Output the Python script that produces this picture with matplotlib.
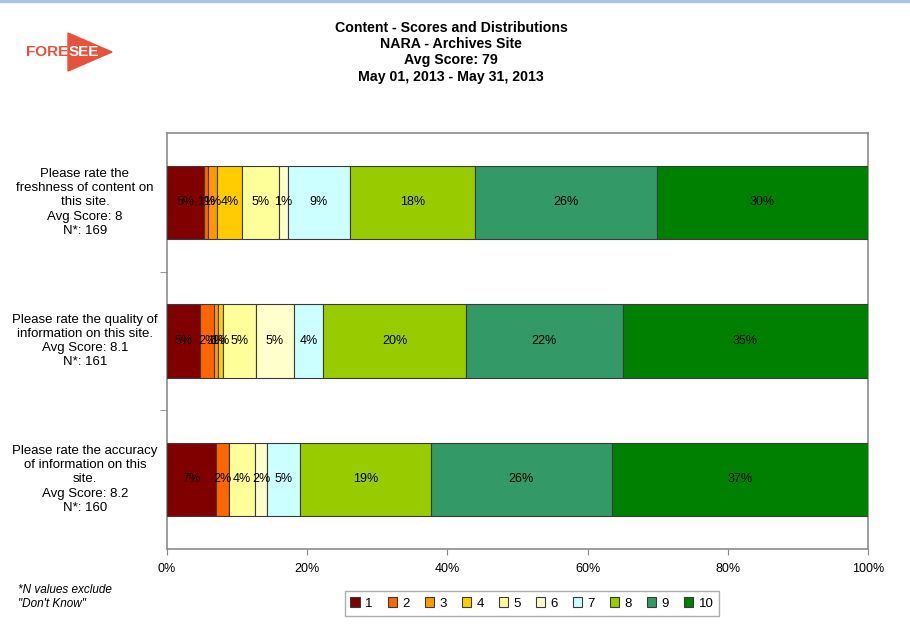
import numpy as np
import matplotlib; matplotlib.use("Agg")
import matplotlib.pyplot as plt
from matplotlib.patches import Polygon, Rectangle
from matplotlib.transforms import blended_transform_factory

plt.rcParams["font.family"] = ["Liberation Sans", "DejaVu Sans"]

# ---- data (percent of respondents per score 1..10) ----
scores = ["1", "2", "3", "4", "5", "6", "7", "8", "9", "10"]
questions = [
    "Please rate the\nfreshness of content on\nthis site.\nAvg Score: 8\nN*: 169",
    "Please rate the quality of\ninformation on this site.\nAvg Score: 8.1\nN*: 161",
    "Please rate the accuracy\nof information on this\nsite.\nAvg Score: 8.2\nN*: 160",
]
freshness = [5.3, 0.6, 1.2, 3.6, 5.3, 1.2, 8.9, 17.8, 26.0, 30.1]
quality   = [4.7, 2.0, 0.6, 0.7, 4.7, 5.4, 4.2, 20.3, 22.4, 35.0]
accuracy  = [7.0, 1.9, 0.0, 0.0, 3.6, 1.8, 4.6, 18.8, 25.7, 36.6]
colors = ["#800000", "#FF6600", "#FF9900", "#FFCC00", "#FFFF99",
          "#FFFFCC", "#CCFFFF", "#99CC00", "#339966", "#008000"]

data = np.array([freshness, quality, accuracy])
ypos = np.arange(len(questions))

fig = plt.figure(figsize=(9.1, 6.24), dpi=100)
ax = fig.add_axes([0.1835, 0.1207, 0.7705, 0.666])

left = np.zeros(len(questions))
for j, s in enumerate(scores):
    vals = data[:, j]
    ax.barh(ypos, vals, left=left.copy(), height=0.53, color=colors[j],
            edgecolor="#3a3a3a", linewidth=0.8, label=s, zorder=3)
    for i, v in enumerate(vals):
        if v > 0:
            ax.text(left[i] + v / 2, ypos[i], f"{v:.0f}%", ha="center",
                    va="center", fontsize=9, color="black", zorder=4)
    left = left + vals

ax.set_xlim(0, 100)
ax.set_ylim(2.5, -0.5)
ax.set_xticks(np.arange(0, 101, 20))
ax.set_xticklabels([f"{t}%" for t in range(0, 101, 20)], fontsize=9)
ax.tick_params(axis="x", length=4, color="#888888", pad=6)
ax.set_yticks([])
ax.set_yticks([0.5, 1.5], minor=True)
ax.tick_params(axis="y", which="minor", length=5, color="#888888")
for sp in ax.spines.values():
    sp.set_color("#8c8c8c")
    sp.set_linewidth(1.2)

# category labels
tr = blended_transform_factory(fig.transFigure, ax.transData)
for i, q in enumerate(questions):
    ax.text(85 / 910, ypos[i], q, transform=tr, ha="center", va="center",
            fontsize=9.5, linespacing=1.25)

# title
fig.text(451 / 910, 0.967, "Content - Scores and Distributions\nNARA - Archives Site\n"
         "Avg Score: 79\nMay 01, 2013 - May 31, 2013",
         ha="center", va="top", fontsize=10.2, fontweight="bold", linespacing=1.22)

# top blue strip
fig.patches.append(Rectangle((0, 1 - 2 / 624), 1, 2 / 624, transform=fig.transFigure,
                             color="#A9C4EB", zorder=0))

# logo
red = "#E8513A"
tri = Polygon([(68 / 910, 1 - 33 / 624), (68 / 910, 1 - 71 / 624), (112 / 910, 1 - 52 / 624)],
              closed=True, transform=fig.transFigure, color=red)
fig.patches.append(tri)
fig.text(26 / 910, 1 - 52 / 624, "FORE", color=red, fontsize=11,
         fontweight="bold", va="center", ha="left")
fig.text(69 / 910, 1 - 52 / 624, "SEE", color="white", fontsize=11,
         fontweight="bold", va="center", ha="left")

# footnote
fig.text(18 / 910, 1 - 597 / 624, "*N values exclude\n\"Don't Know\"", fontsize=8.5,
         style="italic", va="center", ha="left", linespacing=1.2)

# legend
leg = fig.legend(loc="center", bbox_to_anchor=(532 / 910, 1 - 603.5 / 624), ncol=10,
                 fontsize=9.5, frameon=True, fancybox=False, handlelength=0.7,
                 handleheight=0.7, handletextpad=0.4, columnspacing=1.15,
                 borderpad=0.45, edgecolor="#999999")
leg.get_frame().set_linewidth(1.0)

fig.savefig("out.png", dpi=100)
